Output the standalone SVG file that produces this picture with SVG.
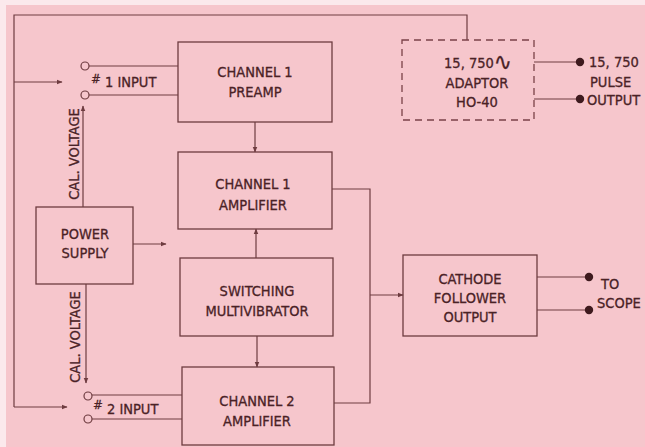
<svg xmlns="http://www.w3.org/2000/svg" width="645" height="447" viewBox="0 0 645 447">
<style>
.bg{fill:#f6c6cc}
.box{fill:none;stroke:#6e3c40;stroke-width:1.3}
.dash{fill:none;stroke:#7a4248;stroke-width:1.3;stroke-dasharray:7,5}
.ln{fill:none;stroke:#6e3c40;stroke-width:1.2}
.t{font-family:"DejaVu Sans Condensed","DejaVu Sans","Liberation Sans",sans-serif;font-size:14.5px;fill:#4a2226;stroke:#4a2226;stroke-width:0.3;text-anchor:middle}
.l{text-anchor:start}
.dot{fill:#3e1a1e}
.cir{fill:#f6c6cc;stroke:#6e3c40;stroke-width:1.2}
</style>
<defs>
<marker id="ah" viewBox="0 0 10 10" refX="9" refY="5" markerWidth="6" markerHeight="6" orient="auto" markerUnits="userSpaceOnUse">
<path d="M0,1 L10,5 L0,9 z" fill="#6e3c40"/>
</marker>
</defs>
<rect width="645" height="447" fill="#fbe9ec"/>
<rect class="bg" x="6" y="5" width="639" height="442"/>

<g id="connectors">
<polyline class="ln" points="467,40 467,15 14,15 14,407"/>
<line class="ln" x1="14" y1="82" x2="62" y2="82" marker-end="url(#ah)"/>
<line class="ln" x1="14" y1="407" x2="67" y2="407" marker-end="url(#ah)"/>
<line class="ln" x1="89" y1="66" x2="178" y2="66"/>
<line class="ln" x1="89" y1="95" x2="178" y2="95"/>
<line class="ln" x1="92" y1="395" x2="182" y2="395"/>
<line class="ln" x1="92" y1="419" x2="182" y2="419"/>
<line class="ln" x1="83" y1="207" x2="83" y2="106" marker-end="url(#ah)"/>
<line class="ln" x1="86" y1="284" x2="86" y2="383" marker-end="url(#ah)"/>
<line class="ln" x1="133" y1="244" x2="166" y2="244" marker-end="url(#ah)"/>
<line class="ln" x1="255" y1="122" x2="255" y2="152" marker-end="url(#ah)"/>
<line class="ln" x1="256" y1="258" x2="256" y2="229" marker-end="url(#ah)"/>
<line class="ln" x1="257" y1="336" x2="257" y2="367" marker-end="url(#ah)"/>
<polyline class="ln" points="332,189 370,189 370,403 334,403"/>
<line class="ln" x1="370" y1="295" x2="403" y2="295" marker-end="url(#ah)"/>
<line class="ln" x1="534" y1="62" x2="579" y2="62"/>
<line class="ln" x1="534" y1="99" x2="579" y2="99"/>
<line class="ln" x1="537" y1="277" x2="588" y2="277"/>
<line class="ln" x1="537" y1="310" x2="588" y2="310"/>
</g>

<g id="terminals">
<circle class="cir" cx="85" cy="66" r="4"/>
<circle class="cir" cx="85" cy="95" r="4"/>
<circle class="cir" cx="88" cy="396" r="4"/>
<circle class="cir" cx="88" cy="419" r="4"/>
<circle class="dot" cx="580" cy="62" r="4.2"/>
<circle class="dot" cx="580" cy="99" r="4.2"/>
<circle class="dot" cx="589" cy="277" r="4.2"/>
<circle class="dot" cx="589" cy="310" r="4.2"/>
</g>

<g id="labels">
<text class="t l" x="91" y="87"><tspan font-size="13" dy="-4">#</tspan><tspan dy="4"> 1 INPUT</tspan></text>
<text class="t l" x="93" y="414"><tspan font-size="13" dy="-5">#</tspan><tspan dy="5"> 2 INPUT</tspan></text>
<text class="t" transform="translate(79,154) rotate(-90)">CAL. VOLTAGE</text>
<text class="t" transform="translate(80,337) rotate(-90)">CAL. VOLTAGE</text>
<text class="t l" x="589" y="67">15, 750</text>
<text class="t l" x="590" y="87">PULSE</text>
<text class="t l" x="587" y="105">OUTPUT</text>
<text class="t l" x="601" y="289">TO</text>
<text class="t l" x="597" y="308">SCOPE</text>
</g>

<g id="preamp1">
<rect class="box" x="178" y="42" width="154" height="80"/>
<text class="t" x="255" y="77">CHANNEL 1</text>
<text class="t" x="255" y="97">PREAMP</text>
</g>
<g id="amp1">
<rect class="box" x="178" y="152" width="154" height="77"/>
<text class="t" x="253" y="189">CHANNEL 1</text>
<text class="t" x="253" y="210">AMPLIFIER</text>
</g>
<g id="switching">
<rect class="box" x="180" y="258" width="153" height="78"/>
<text class="t" x="257" y="296">SWITCHING</text>
<text class="t" x="257" y="316">MULTIVIBRATOR</text>
</g>
<g id="amp2">
<rect class="box" x="182" y="367" width="152" height="78"/>
<text class="t" x="257" y="406">CHANNEL 2</text>
<text class="t" x="257" y="426">AMPLIFIER</text>
</g>
<g id="power">
<rect class="box" x="36" y="207" width="97" height="77"/>
<text class="t" x="85" y="239">POWER</text>
<text class="t" x="85" y="258">SUPPLY</text>
</g>
<g id="adaptor">
<rect class="dash" x="402" y="40" width="132" height="80"/>
<text class="t" x="478" y="68">15, 750<tspan font-size="24" dy="2">∿</tspan></text>
<text class="t" x="477" y="88">ADAPTOR</text>
<text class="t" x="477" y="107">HO-40</text>
</g>
<g id="cathode">
<rect class="box" x="403" y="255" width="134" height="81"/>
<text class="t" x="470" y="284">CATHODE</text>
<text class="t" x="470" y="303">FOLLOWER</text>
<text class="t" x="470" y="322">OUTPUT</text>
</g>
</svg>
